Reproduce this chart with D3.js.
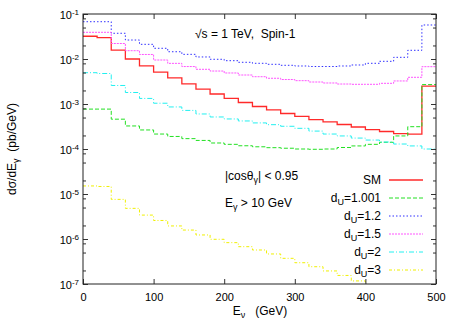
<!DOCTYPE html>
<html>
<head>
<meta charset="utf-8">
<script src="https://cdn.jsdelivr.net/npm/d3@7"></script>
<style>
  body { margin: 0; background: #fff; }
  text { font-family: "Liberation Sans", Arial, sans-serif; fill: #000; }
</style>
</head>
<body>
<script>
// lower edges of the 20 GeV photon energy bins
var eLow = [0, 20, 40, 60, 80, 100, 120, 140, 160, 180, 200, 220, 240,
            260, 280, 300, 320, 340, 360, 380, 400, 420, 440, 460, 480];
var eMax = 500;

// dsigma/dE (pb/GeV), one value per bin
var sm = [0.032, 0.030, 0.0158, 0.0100, 0.0070, 0.0051, 0.0038, 0.0028, 0.00215, 0.00167,
          0.00133, 0.00108, 8.8e-4, 7.4e-4, 6.15e-4, 5.3e-4, 4.5e-4, 4.0e-4, 3.5e-4, 3.08e-4,
          2.7e-4, 2.45e-4, 2.2e-4, 2.15e-4, 2.5e-3];
var du1001 = [7.7e-4, 7.7e-4, 4.6e-4, 3.25e-4, 2.65e-4, 2.15e-4, 1.9e-4, 1.7e-4, 1.55e-4, 1.36e-4,
          1.27e-4, 1.18e-4, 1.12e-4, 1.07e-4, 1.04e-4, 1.0e-4, 9.85e-5, 1.0e-4, 1.08e-4, 1.17e-4,
          1.27e-4, 1.41e-4, 1.95e-4, 3.13e-4, 2.7e-3];
var du12 = [0.0674, 0.0674, 0.0373, 0.0264, 0.0212, 0.0173, 0.0145, 0.0127, 0.0111, 0.00985,
          0.00917, 0.00845, 0.00802, 0.00762, 0.00724, 0.00699, 0.00681, 0.00681, 0.00699, 0.00736,
          0.00802, 0.00889, 0.0109, 0.0156, 0.057];
var du15 = [0.0392, 0.0392, 0.0221, 0.0153, 0.0126, 0.0095, 0.0080, 0.0068, 0.0059, 0.0054,
          0.00489, 0.00441, 0.00404, 0.00373, 0.0035, 0.0033, 0.00308, 0.00293, 0.00278, 0.00274,
          0.00274, 0.00288, 0.00325, 0.00392, 0.00675];
var du2 = [0.00496, 0.00476, 0.00258, 0.0018, 0.00133, 0.00104, 8.6e-4, 7.2e-4, 6.0e-4, 5.15e-4,
          4.65e-4, 4.2e-4, 3.8e-4, 3.47e-4, 3.2e-4, 2.88e-4, 2.5e-4, 2.15e-4, 1.95e-4, 1.75e-4,
          1.58e-4, 1.43e-4, 1.29e-4, 1.17e-4, 1.0e-4];
var du3 = [1.51e-5, 1.47e-5, 7.6e-6, 4.8e-6, 3.4e-6, 2.58e-6, 1.95e-6, 1.58e-6, 1.23e-6, 9.85e-7,
          8.3e-7, 6.75e-7, 5.7e-7, 4.65e-7, 3.72e-7, 2.97e-7, 2.42e-7, 1.95e-7, 1.55e-7, 1.17e-7,
          9e-8];

var seriesNames = ["SM", "1.001", "1.2", "1.5", "2", "3"];
var seriesVals = [sm, du1001, du12, du15, du2, du3];
var seriesColors = ["#ff2a2a", "#22e022", "#3030ff", "#ff55ff", "#22f0f0", "#f0f000"];
var seriesDash = ["none", "4,2", "1.5,2", "2,1", "5,2,1,2", "3,2,1,2"];

var xTicks = [0, 100, 200, 300, 400, 500];
var yMajor = [1e-7, 1e-6, 1e-5, 1e-4, 1e-3, 1e-2, 1e-1];
var yMinorMult = [2, 5, 8];

var W = 457, H = 320;
var margin = {left: 83, right: 21, top: 14, bottom: 36};

var svg = d3.select("body").append("svg")
  .attr("width", W)
  .attr("height", H);

var x = d3.scaleLinear().domain([0, eMax]).range([margin.left, W - margin.right]);
var y = d3.scaleLog().domain([1e-7, 1e-1]).range([H - margin.bottom, margin.top]);

// minor ticks on the log axis
var yMinor = [];
yMajor.slice(0, -1).forEach(function(d) {
  yMinorMult.forEach(function(m) { yMinor.push(d * m); });
});

// clip for the curves
svg.append("defs").append("clipPath").attr("id", "plotclip")
  .append("rect")
  .attr("x", x(0)).attr("y", y(1e-1))
  .attr("width", x(eMax) - x(0))
  .attr("height", y(1e-7) - y(1e-1));

// histogram steps
var line = d3.line()
  .x(function(d) { return x(d[0]); })
  .y(function(d) { return y(d[1]); })
  .curve(d3.curveStepAfter);

var curves = svg.append("g").attr("clip-path", "url(#plotclip)");
seriesVals.forEach(function(vals, i) {
  var pts = vals.map(function(v, j) { return [eLow[j], v]; });
  var end = vals.length < eLow.length ? eLow[vals.length] : eMax;
  pts.push([end, vals[vals.length - 1]]);
  curves.append("path")
    .datum(pts)
    .attr("fill", "none")
    .attr("stroke", seriesColors[i])
    .attr("stroke-width", i == 0 ? 1.3 : 1)
    .attr("stroke-dasharray", seriesDash[i])
    .attr("d", line);
});

// axes: ticks point inward on all four sides
function styleAxis(g) {
  g.select(".domain").remove();
  g.selectAll(".tick line").attr("stroke", "#333");
}

var xAxis = d3.axisBottom(x).tickValues(xTicks).tickSizeInner(-5).tickSizeOuter(0)
  .tickPadding(9).tickFormat(d3.format("d"));
svg.append("g")
  .attr("transform", "translate(0," + y(1e-7) + ")")
  .call(xAxis)
  .call(styleAxis)
  .call(function(g) { g.selectAll(".tick text").style("font-size", "11px").attr("font-family", null); });

svg.append("g")
  .attr("transform", "translate(0," + y(1e-1) + ")")
  .call(d3.axisTop(x).tickValues(xTicks).tickSizeInner(-5).tickSizeOuter(0).tickFormat(""))
  .call(styleAxis);

var yAxis = d3.axisLeft(y).tickValues(yMajor).tickSizeInner(-5).tickSizeOuter(0)
  .tickPadding(4).tickFormat(function() { return ""; });
svg.append("g")
  .attr("transform", "translate(" + x(0) + ",0)")
  .call(yAxis)
  .call(styleAxis)
  .call(function(g) {
    g.selectAll(".tick text").each(function(d) {
      var t = d3.select(this).style("font-size", "11px").attr("dy", "0.4em");
      t.append("tspan").text("10");
      t.append("tspan").attr("dy", "-0.45em").style("font-size", "8px")
        .text(Math.round(Math.log10(d)));
    });
  });

svg.append("g")
  .attr("transform", "translate(" + x(0) + ",0)")
  .call(d3.axisLeft(y).tickValues(yMinor).tickSizeInner(-3).tickSizeOuter(0).tickFormat(""))
  .call(styleAxis);

svg.append("g")
  .attr("transform", "translate(" + x(eMax) + ",0)")
  .call(d3.axisRight(y).tickValues(yMajor).tickSizeInner(-5).tickSizeOuter(0).tickFormat(""))
  .call(styleAxis);
svg.append("g")
  .attr("transform", "translate(" + x(eMax) + ",0)")
  .call(d3.axisRight(y).tickValues(yMinor).tickSizeInner(-3).tickSizeOuter(0).tickFormat(""))
  .call(styleAxis);

// frame
svg.append("rect")
  .attr("x", x(0)).attr("y", y(1e-1))
  .attr("width", x(eMax) - x(0))
  .attr("height", y(1e-7) - y(1e-1))
  .attr("fill", "none")
  .attr("stroke", "#222")
  .attr("stroke-width", 1);

// axis titles
var yTitle = svg.append("text")
  .attr("transform", "translate(16," + ((y(1e-1) + y(1e-7)) / 2) + ") rotate(-90)")
  .attr("text-anchor", "middle")
  .style("font-size", "12px")
  .style("white-space", "pre");
yTitle.append("tspan").text("dσ/dE");
yTitle.append("tspan").attr("dy", 3).style("font-size", "9px").text("γ");
yTitle.append("tspan").attr("dy", -3).text("  (pb/GeV)");

var xTitle = svg.append("text")
  .attr("x", 260).attr("y", 315)
  .attr("text-anchor", "middle")
  .style("font-size", "12px")
  .style("white-space", "pre");
xTitle.append("tspan").text("E");
xTitle.append("tspan").attr("dy", 3).style("font-size", "9px").text("ν");
xTitle.append("tspan").attr("dy", -3).text("   (GeV)");

// labels inside the plot
svg.append("text")
  .attr("x", 195).attr("y", 38)
  .style("font-size", "12px")
  .style("white-space", "pre")
  .text("√s = 1 TeV,  Spin-1");

var cosT = svg.append("text").attr("x", 225).attr("y", 180).style("font-size", "12px");
cosT.append("tspan").text("|cosθ");
cosT.append("tspan").attr("dy", 3).style("font-size", "9px").text("γ");
cosT.append("tspan").attr("dy", -3).text("| < 0.95");

var eT = svg.append("text").attr("x", 225).attr("y", 207).style("font-size", "12px");
eT.append("tspan").text("E");
eT.append("tspan").attr("dy", 3).style("font-size", "9px").text("γ");
eT.append("tspan").attr("dy", -3).text(" > 10 GeV");

// legend
var legend = svg.append("g");
seriesNames.forEach(function(name, i) {
  var ly = 180 + i * 18;
  var t = legend.append("text")
    .attr("x", 381).attr("y", ly + 4)
    .attr("text-anchor", "end")
    .style("font-size", "12px");
  if (i == 0) {
    t.text(name);
  } else {
    t.append("tspan").text("d");
    t.append("tspan").attr("dy", 3).style("font-size", "9px").text("U");
    t.append("tspan").attr("dy", -3).text("=" + name);
  }
  legend.append("line")
    .attr("x1", 389).attr("x2", 423)
    .attr("y1", ly).attr("y2", ly)
    .attr("stroke", seriesColors[i])
    .attr("stroke-width", i == 0 ? 1.3 : 1)
    .attr("stroke-dasharray", seriesDash[i]);
});
</script>
</body>
</html>
